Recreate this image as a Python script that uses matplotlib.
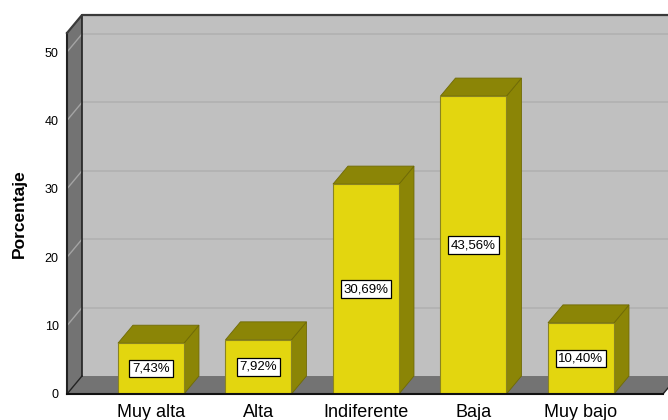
import matplotlib.pyplot as plt
from matplotlib.patches import Polygon, Rectangle

plt.rcParams['font.family'] = ['Liberation Sans', 'DejaVu Sans']

categorias = ["Muy alta", "Alta", "Indiferente", "Baja", "Muy bajo"]
porcentajes = [7.43, 7.92, 30.69, 43.56, 10.40]
yticks = [0, 10, 20, 30, 40, 50]

# colours of the 3D box look
c_pared = "#c0c0c0"
c_lado = "#737373"
c_grid = "#b1b1b1"
c_grid_lado = "#a4a4a4"
c_frente = "#e3d60f"
c_sombra = "#8b8506"

W, H = 668, 420
fig = plt.figure(figsize=(W / 100, H / 100), dpi=100)
ax = fig.add_axes([67 / W, 26 / H, (663 - 67) / W, (394 - 33) / H])

x0, x1 = -0.781, 4.763
ymax = 52.78
dx, dy = 0.1395, 2.63  # depth of the box
ancho = 0.614

ax.set_xlim(x0, x1)
ax.set_ylim(0, ymax)
ax.set_facecolor("none")
for s in ax.spines.values():
    s.set_visible(False)

# back wall, left wall, floor
ax.add_patch(Rectangle((x0 + dx, dy), x1 - x0 + 0.5, ymax, facecolor=c_pared,
                       edgecolor="none", clip_on=False, zorder=0))
ax.add_patch(Polygon([(x0, 0), (x0 + dx, dy), (x0 + dx, ymax + dy), (x0, ymax)],
                     facecolor=c_lado, edgecolor="none", clip_on=False, zorder=1))
ax.add_patch(Polygon([(x0, 0), (x1, 0), (x1 + dx, dy), (x0 + dx, dy)],
                     facecolor=c_lado, edgecolor="none", clip_on=False, zorder=1))

for t in yticks[1:]:
    ax.plot([x0 + dx, x1 + 1], [t + dy, t + dy], color=c_grid, lw=1.2,
            clip_on=False, zorder=0.5)
    ax.plot([x0, x0 + dx], [t, t + dy], color=c_grid_lado, lw=1.0,
            clip_on=False, zorder=1.5)

# frame lines
ax.plot([x0 + dx, x0 + dx], [dy, ymax + dy], color="#222222", lw=1.2, clip_on=False, zorder=2)
ax.plot([x0, x0], [0, ymax], color="#222222", lw=1.5, clip_on=False, zorder=2)
ax.plot([x0, x0 + dx, x1 + 1], [ymax, ymax + dy, ymax + dy], color="#3a3a3a", lw=1.6,
        clip_on=False, zorder=2)
ax.plot([x0, x0 + dx], [0, dy], color="#222222", lw=1.0, clip_on=False, zorder=2)
ax.plot([x1, x1 + dx], [0, dy], color="#222222", lw=1.0, clip_on=False, zorder=2)

# bars
for i, v in enumerate(porcentajes):
    izq, der = i - ancho / 2, i + ancho / 2
    ax.add_patch(Polygon([(der, 0), (der + dx, dy), (der + dx, v + dy), (der, v)],
                         facecolor=c_sombra, edgecolor="#6f6a05", lw=0.6, zorder=3))
    ax.add_patch(Polygon([(izq, v), (der, v), (der + dx, v + dy), (izq + dx, v + dy)],
                         facecolor=c_sombra, edgecolor="#6f6a05", lw=0.6, zorder=3))
    ax.add_patch(Rectangle((izq, 0), ancho, v, facecolor=c_frente,
                           edgecolor="#8a8420", lw=0.8, zorder=4))
    ax.text(i, v / 2, f"{v:.2f}%".replace(".", ","), ha="center", va="center",
            fontsize=9.5, zorder=6,
            bbox=dict(boxstyle="square,pad=0.22", facecolor="white",
                      edgecolor="black", lw=0.9))

ax.plot([x0, x1], [0, 0], color="#111111", lw=1.5, clip_on=False, zorder=5)

ax.set_xticks(range(len(categorias)), categorias, fontsize=13)
ax.set_yticks(yticks, [str(t) for t in yticks], fontsize=9)
ax.tick_params(axis="both", length=0)
ax.tick_params(axis="x", pad=7)
ax.tick_params(axis="y", pad=6)
ax.set_ylabel("Porcentaje", fontsize=12.5, fontweight="bold", labelpad=13)

fig.savefig("out.png", dpi=100)
